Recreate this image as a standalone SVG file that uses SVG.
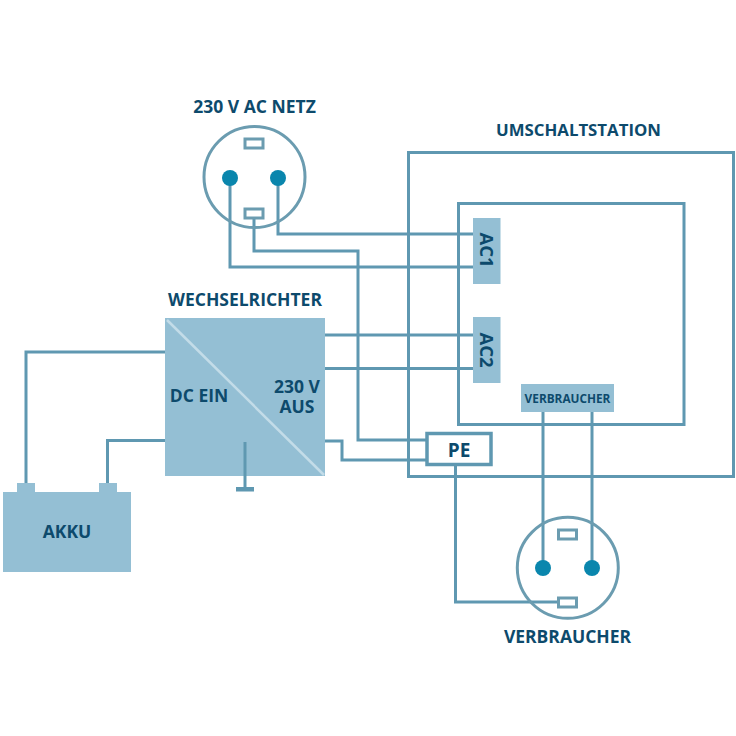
<svg xmlns="http://www.w3.org/2000/svg" width="736" height="736" viewBox="0 0 736 736">
<style>
.w{fill:none;stroke:#5f98b1;stroke-width:3}
.s{fill:#fff;stroke:#6b9cb0;stroke-width:3}
.f{fill:#94bfd4}
.p{fill:#0a86ad}
.t{font-family:"Open Sans","Liberation Sans",sans-serif;font-weight:700;fill:#0d4a6c;text-anchor:middle;font-size:17.500px}
</style>
<rect width="736" height="736" fill="#fff"/>
<g id="connectors">
<path class="w" d="M408.500 152.500H733.500V476.500H408.500Z"/>
<path class="w" d="M458.500 203.500H684V424.500H458.500Z"/>
<path class="w" d="M278 178V234H473"/>
<path class="w" d="M230 178V267H473"/>
<path class="w" d="M254 218V251H358V440H427"/>
<path class="w" d="M325 335H473"/>
<path class="w" d="M325 368.500H473"/>
<path class="w" d="M325 441H342V460H427"/>
<path class="w" d="M165 352H26V484"/>
<path class="w" d="M165 440.500H107.500V484"/>
<path class="w" d="M455.500 466V602H558"/>
<path class="w" d="M543 412V568"/>
<path class="w" d="M592 412V568"/>
</g>
<g id="socket-netz">
<circle cx="254.500" cy="177" r="50.500" fill="none" stroke="#6b9cb0" stroke-width="3"/>
<rect class="s" x="245" y="139" width="18" height="9"/>
<rect class="s" x="245" y="209" width="18" height="9"/>
<circle class="p" cx="230" cy="178" r="8"/>
<circle class="p" cx="278" cy="178" r="8"/>
<text class="t" x="254.500" y="113">230 V AC NETZ</text>
</g>
<g id="umschaltstation">
<text class="t" x="578.500" y="136" style="font-size:16.800px">UMSCHALTSTATION</text>
</g>
<g id="ac1">
<rect class="f" x="473" y="218" width="27.500" height="66"/>
<text class="t" transform="translate(480 250) rotate(90)" style="font-size:18.500px">AC1</text>
</g>
<g id="ac2">
<rect class="f" x="473" y="317" width="27.500" height="66"/>
<text class="t" transform="translate(480 350) rotate(90)" style="font-size:18.500px">AC2</text>
</g>
<g id="verbraucher-box">
<rect class="f" x="521" y="384" width="93" height="28"/>
<text class="t" x="567.500" y="403" style="font-size:11.800px">VERBRAUCHER</text>
</g>
<g id="wechselrichter">
<text class="t" x="245" y="306">WECHSELRICHTER</text>
<rect class="f" x="165" y="318" width="160" height="158"/>
<path d="M167 320L324 475" fill="none" stroke="#c3dce8" stroke-width="2.500"/>
<path d="M245 442V488" fill="none" stroke="#5f98b1" stroke-width="3"/>
<rect x="236" y="487" width="18" height="4.500" fill="#5f98b1"/>
<text class="t" x="199" y="402">DC EIN</text>
<text class="t"><tspan x="297" y="392.500">230 V</tspan><tspan x="297" y="412.500">AUS</tspan></text>
</g>
<g id="pe">
<rect x="427" y="433.500" width="64" height="31" fill="#fff" stroke="#5f98b1" stroke-width="3.500"/>
<text class="t" x="459" y="456.500" style="font-size:19px">PE</text>
</g>
<g id="akku">
<rect class="f" x="17" y="483" width="18" height="10"/>
<rect class="f" x="99" y="483" width="18" height="10"/>
<rect class="f" x="3" y="492" width="128" height="80"/>
<text class="t" x="67" y="538">AKKU</text>
</g>
<g id="socket-verbraucher">
<circle cx="567.800" cy="567.800" r="50.500" fill="none" stroke="#6b9cb0" stroke-width="3"/>
<rect class="s" x="558.500" y="530" width="18" height="9"/>
<rect class="s" x="558.500" y="598" width="18" height="9"/>
<circle class="p" cx="543" cy="568" r="8"/>
<circle class="p" cx="592" cy="568" r="8"/>
<text class="t" x="567.500" y="643">VERBRAUCHER</text>
</g>
</svg>
